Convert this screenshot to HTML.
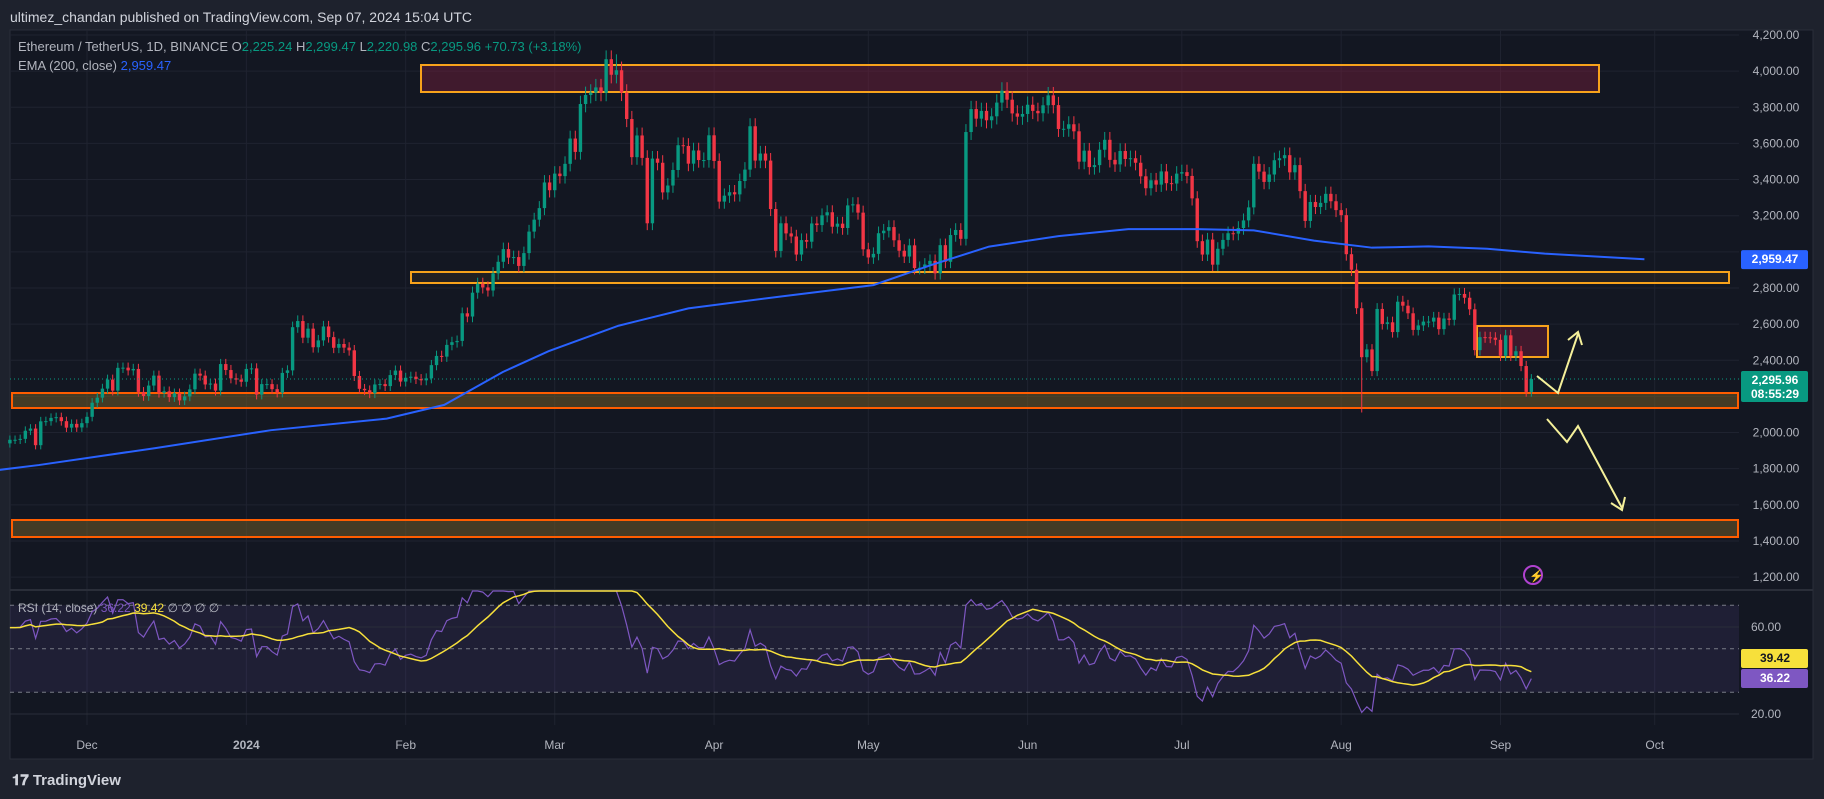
<!DOCTYPE html>
<html><head><meta charset="utf-8">
<style>
html,body{margin:0;padding:0;background:#1e222d;}
svg{display:block;font-family:"Liberation Sans",sans-serif;}
</style></head>
<body>
<svg id="c" width="1824" height="799" viewBox="0 0 1824 799">
<rect x="0" y="0" width="1824" height="799" fill="#1e222d"/>
<text x="10" y="22" fill="#d1d4dc" font-size="14">ultimez_chandan published on TradingView.com, Sep 07, 2024 15:04 UTC</text>
<rect x="10" y="30" width="1803" height="729" fill="#131722" stroke="#2a2e39"/>
<g id="grid"></g>
<g id="zones"></g>
<g id="candles"></g>
<g id="overlay"></g>
<g id="rsi"></g>
<g id="axes"></g>
<text x="18" y="51" font-size="13" fill="#b2b5be">Ethereum / TetherUS, 1D, BINANCE  O<tspan fill="#089981">2,225.24</tspan>  H<tspan fill="#089981">2,299.47</tspan>  L<tspan fill="#089981">2,220.98</tspan>  C<tspan fill="#089981">2,295.96</tspan>  <tspan fill="#089981">+70.73 (+3.18%)</tspan></text>
<text x="18" y="70" font-size="13" fill="#b2b5be">EMA (200, close)  <tspan fill="#2962ff">2,959.47</tspan></text>
<text x="18" y="612" font-size="12" fill="#b2b5be">RSI (14, close) <tspan fill="#7e57c2">36.22</tspan> <tspan fill="#f7e03b">39.42</tspan>  ∅  ∅  ∅  ∅</text>
<text x="12" y="785" font-size="15" font-weight="bold" fill="#d1d4dc">𝟏𝟕 TradingView</text>
</svg>
<script>
const closes=[1960,1960,1965,2010,2022,1930,2062,2063,2081,2085,2063,2027,2048,2028,2052,
2087,2165,2193,2243,2293,2232,2358,2359,2344,2352,2225,2202,2260,2315,2220,2228,2196,2217,2178,2200,2239,2326,2315,2266,2271,2232,2379,2346,2300,2293,2281,
2352,2355,2210,2268,2268,2240,2221,2330,2344,2583,2617,2525,2575,2472,2510,2587,2528,2469,2490,2470,2455,2313,2242,2234,2217,2266,2268,2257,2318,2343,2282,
2303,2309,2296,2289,2300,2373,2424,2420,2485,2500,2507,2660,2642,2774,2823,2803,2786,2881,2945,3015,2968,2971,2922,2993,3112,3178,3242,3384,3341,
3433,3419,3487,3627,3553,3818,3868,3881,3910,3880,4066,3980,4005,3881,3735,3524,3644,3520,3158,3516,3493,3329,3367,3453,3590,3586,3488,3561,3508,3508,3645,
3503,3278,3311,3330,3318,3392,3455,3695,3505,3544,3505,3237,3005,3158,3102,3085,2985,3065,3056,3157,3148,3202,3219,3139,3156,3132,3257,3263,3217,3014,
2969,2989,3103,3117,3137,3064,3006,2974,3036,2910,2912,2930,2950,2881,3037,2945,3093,3121,3072,3663,3790,3737,3780,3728,3750,3826,3892,3842,3766,3748,3763,
3814,3780,3767,3811,3866,3812,3680,3681,3706,3667,3499,3560,3469,3480,3565,3620,3509,3484,3558,3514,3518,3493,3418,3352,3396,3372,3445,3380,3378,3433,
3441,3420,3296,3059,2985,3068,2929,3017,3066,3103,3101,3132,3174,3246,3487,3444,3387,3428,3507,3518,3535,3440,3480,3336,3171,3276,3248,3271,3321,3280,3231,
3203,2987,2901,2688,2417,2460,2340,2684,2601,2610,2556,2724,2702,2660,2568,2593,2614,2614,2636,2572,2631,2624,2764,2767,2746,2682,2456,2528,2527,2525,2513,
2425,2538,2425,2450,2368,2225,2296];
const firstOpen=1940;
const lowSpikes=[[263,2111],[118,4093]];
const rsiSeed=[34,24];
const emaDays=[-15,5.6,28.3,50.8,73.3,84.5,95.9,104.8,118.4,132,150,168,179,190.5,204,217.6,231,242,253.7,265,276,287.4,298.6,318];
const emaVals=[1748,1820,1914,2013,2077,2153,2335,2450,2591,2687,2753,2816,2925,3029,3087,3126,3126,3119,3062,3023,3030,3017,2990,2959];
const priceTicks=[4200,4000,3800,3600,3400,3200,3000,2800,2600,2400,2000,1800,1600,1400,1200];
const monthLabels=["Dec","2024","Feb","Mar","Apr","May","Jun","Jul","Aug","Sep","Oct"];
const monthDays=[15,46,77,106,137,167,198,228,259,290,320];
const rsiTicks=[60,20];

const NS="http://www.w3.org/2000/svg";
const PL=10,PR=1739;
const X=i=>87+(i-15)*5.14;
const Y=p=>35+(4200-p)*0.1807;
const RY=v=>714-(v-20)*2.175;
function mk(tag,attrs,parent){const e=document.createElementNS(NS,tag);for(const k in attrs)e.setAttribute(k,attrs[k]);parent.appendChild(e);return e;}
const grid=document.getElementById('grid'),zones=document.getElementById('zones'),cg=document.getElementById('candles'),ov=document.getElementById('overlay'),rg=document.getElementById('rsi'),ax=document.getElementById('axes');

priceTicks.concat([2200]).forEach(p=>{const l=mk('line',{x1:PL,x2:PR,y1:Y(p),y2:Y(p),stroke:'#1f2330'},grid);

});
monthDays.forEach(d=>{const l=mk('line',{x1:X(d),x2:X(d),y1:30,y2:725,stroke:'#1f2330'},grid);

});
const sep=mk('line',{x1:10,x2:1813,y1:590,y2:590,stroke:'#2a2e39',"stroke-width":2},grid);



function zone(x1,y1,x2,y2,fill,stroke,name){const r=mk('rect',{x:x1,y:y1,width:x2-x1,height:y2-y1,fill:fill,stroke:stroke,"stroke-width":2},zones);

}
zone(421,65,1599,92,'rgba(120,30,60,0.45)','#f7a21b','resistance-zone-top');
zone(411,272,1729,283,'rgba(120,90,40,0.15)','#f7a21b','resistance-zone-mid');
zone(12,393,1738,408,'rgba(110,90,40,0.55)','#ff5d00','support-zone');
zone(12,520,1738,537,'rgba(110,90,40,0.55)','#ff5d00','lower-support-zone');
zone(1477,326,1548,357,'rgba(120,30,60,0.45)','#f7a21b','consolidation-box');

let prev=firstOpen;
closes.forEach((c,i)=>{const o=prev;prev=c;const up=c>=o;const col=up?'#089981':'#f23645';
let hi=Math.max(o,c)*1.012,lo=Math.min(o,c)*0.988;
lowSpikes.forEach(s=>{if(s[0]===i){if(s[1]<lo)lo=s[1];else hi=s[1];}});
const x=X(i);
const w=mk('line',{x1:x,x2:x,y1:Y(hi),y2:Y(lo),stroke:col,"stroke-width":1},cg);


const b=mk('rect',{x:x-1.7,y:Y(Math.max(o,c)),width:3.4,height:Math.max(1,Math.abs(Y(o)-Y(c))),fill:col},cg);

});

const emaPts=emaDays.map((d,i)=>X(d)+','+Y(emaVals[i])).join(' ');
const ema=mk('polyline',{points:emaPts,fill:'none',stroke:'#2962ff',"stroke-width":2},ov);


const last=closes[closes.length-1];
const pl=mk('line',{x1:PL,x2:PR,y1:Y(last),y2:Y(last),stroke:'#089981',"stroke-dasharray":'1 3'},ov);



const a1=mk('polyline',{points:'1537,376 1558,393 1578,334',fill:'none',stroke:'#f5f09a',"stroke-width":2},ov);


const a1h=mk('polyline',{points:'1568,340 1578,332 1582,345',fill:'none',stroke:'#f5f09a',"stroke-width":2},ov);


const a2=mk('polyline',{points:'1547,419 1567,442 1578,426 1622,508',fill:'none',stroke:'#f5f09a',"stroke-width":2},ov);


const a2h=mk('polyline',{points:'1611,503 1622,510 1625,497',fill:'none',stroke:'#f5f09a',"stroke-width":2},ov);


const ic=mk('circle',{cx:1533,cy:575,r:9,fill:'none',stroke:'#b042d0',"stroke-width":2},ov);


const it=mk('text',{x:1529,y:580,fill:'#b042d0',"font-size":12},ov);it.textContent='⚡';



const band=mk('rect',{x:PL,y:RY(70),width:PR-PL,height:RY(30)-RY(70),fill:'rgba(126,87,194,0.12)'},rg);


[70,50,30].forEach(v=>{const l=mk('line',{x1:PL,x2:PR,y1:RY(v),y2:RY(v),stroke:'#787b86',"stroke-dasharray":'4 4'},rg);

});
rsiTicks.forEach(v=>{const l=mk('line',{x1:PL,x2:PR,y1:RY(v),y2:RY(v),stroke:'#2a2e39'},rg);

});
let ag=rsiSeed[0],al=rsiSeed[1];const rsi=[];
let pc=firstOpen;
closes.forEach((c,i)=>{const ch=c-pc;pc=c;const g=Math.max(ch,0),l=Math.max(-ch,0);
ag=(ag*13+g)/14;al=(al*13+l)/14;
rsi.push(al===0?100:100-100/(1+ag/al));});
const ma=rsi.map((v,i)=>{const s=rsi.slice(Math.max(0,i-13),i+1);return s.reduce((a,b)=>a+b,0)/s.length;});
const cl=v=>Math.max(591,RY(v));
const rp=mk('polyline',{points:rsi.map((v,i)=>X(i)+','+cl(v)).join(' '),fill:'none',stroke:'#7e57c2',"stroke-width":1.2},rg);


const mp=mk('polyline',{points:ma.map((v,i)=>X(i)+','+cl(v)).join(' '),fill:'none',stroke:'#f7e03b',"stroke-width":1.5},rg);



priceTicks.forEach(p=>{if(p===3000)return;const t=mk('text',{x:1776,y:Y(p)+4,fill:'#b2b5be',"font-size":12,"text-anchor":'middle'},ax);t.textContent=p.toLocaleString('en-US')+'.00';

});
rsiTicks.forEach(v=>{const t=mk('text',{x:1766,y:RY(v)+4,fill:'#b2b5be',"font-size":12,"text-anchor":'middle'},ax);t.textContent=v.toFixed(2);

});
monthLabels.forEach((m,i)=>{const t=mk('text',{x:X(monthDays[i]),y:749,fill:'#b2b5be',"font-size":12,"text-anchor":'middle',"font-weight":m==='2024'?'bold':'normal'},ax);t.textContent=m;

});
function tag(y,h,fill,tc,lines,name){const r=mk('rect',{x:1741,y:y,width:67,height:h,fill:fill,rx:2},ax);


lines.forEach((s,k)=>{const t=mk('text',{x:1775,y:y+13+k*14,fill:tc,"font-size":12,"font-weight":'bold',"text-anchor":'middle'},ax);t.textContent=s;

});}
tag(Y(2959.47)-9,19,'#2962ff','#ffffff',['2,959.47'],'ema-price-tag');
tag(Y(last)-8,31,'#089981','#ffffff',['2,295.96','08:55:29'],'last-price-tag');
tag(649,19,'#f7e03b','#131722',['39.42'],'rsi-ma-tag');
tag(669,19,'#7e57c2','#ffffff',['36.22'],'rsi-tag');
</script>
</body></html>
